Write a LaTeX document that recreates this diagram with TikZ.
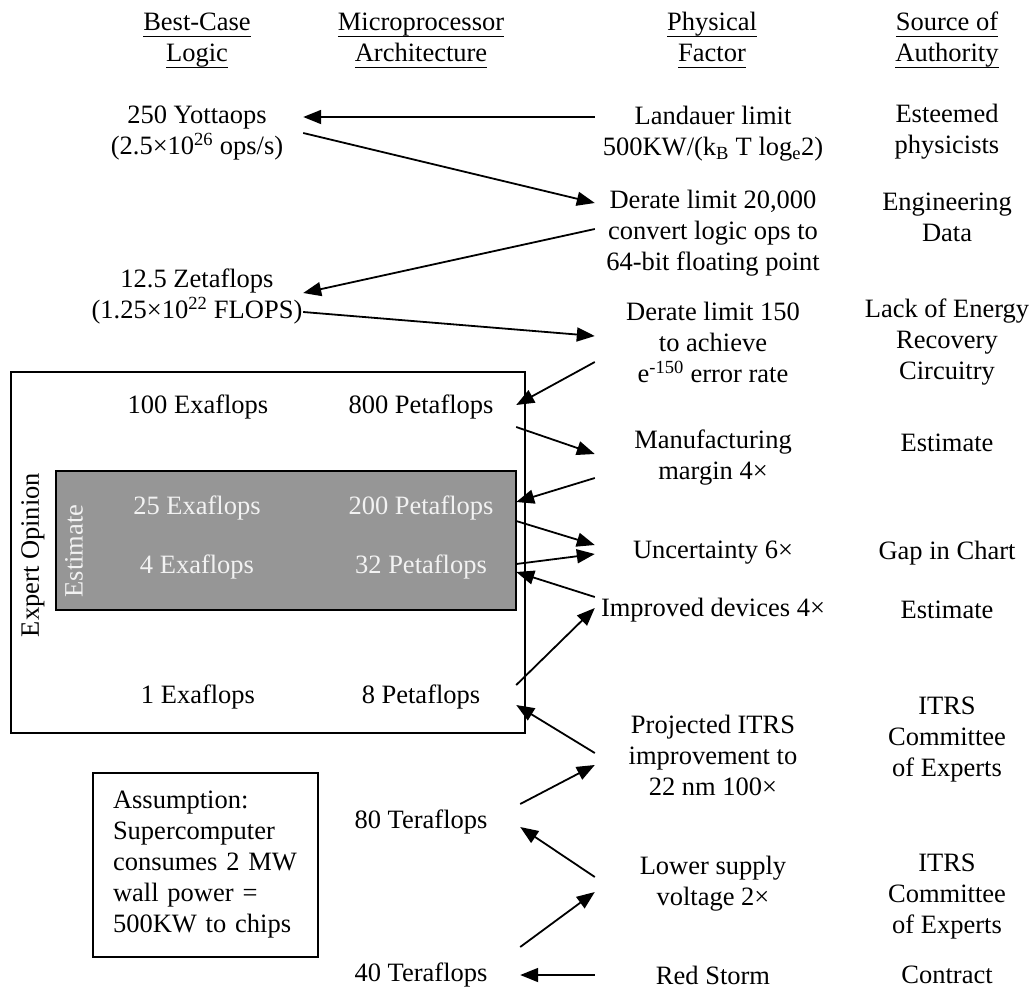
\documentclass[tikz,border=0pt]{standalone}
\usepackage{fontspec}
\setmainfont{Liberation Serif}
\usetikzlibrary{arrows.meta}
\definecolor{boxgray}{HTML}{969696}
\definecolor{pale}{HTML}{F2F2F2}
\newcommand{\hdrline}[1]{\underline{\raisebox{0pt}[19pt][4pt]{#1}}}
\begin{document}
\begin{tikzpicture}[x=1pt,y=-1pt,
  every node/.style={font=\fontsize{26.5}{31}\selectfont, inner sep=0pt, align=center},
  lcol/.style={minimum width=212pt},
  pcol/.style={minimum width=190pt},
  tcol/.style={minimum width=198pt},
  fcol/.style={minimum width=236pt},
  wtext/.style={text=pale},
  arr/.style={line width=1.8pt, -{Triangle[length=18pt,width=14pt]}},
  frame/.style={draw=black, line width=1.7pt}]
\useasboundingbox (0,0) rectangle (1032,990);

% boxes
\draw[frame] (11,372) rectangle (525,733);
\draw[frame, fill=boxgray, line width=2pt] (56,471) rectangle (516,610);
\node[rotate=90] (expert) at (33,555) {Expert Opinion};
\node[rotate=90, wtext] (estv) at (74,551) {Estimate};
\node[frame, line width=2pt, minimum width=225pt, minimum height=184pt,
      text width=185pt, align=left] (assume) at (205.5,865)
  {Assumption:\\Supercomputer\\consumes 2 MW\\wall power =\\500KW to chips};

% headers
\node (h1) at (197,40) {\hdrline{Best-Case}\\\hdrline{Logic}};
\node (h2) at (421,40) {\hdrline{Microprocessor}\\\hdrline{Architecture}};
\node (h3) at (712,40) {\hdrline{Physical}\\\hdrline{Factor}};
\node (h4) at (947,40) {\hdrline{Source of}\\\hdrline{Authority}};

% best-case logic column
\node[lcol] (yotta) at (197,133.5) {250 Yottaops\\(2.5×10\textsuperscript{26} ops/s)};
\node[lcol] (zeta) at (197,296.5) {12.5 Zetaflops\\(1.25×10\textsuperscript{22} FLOPS)};
\node (e100) at (198,407) {100 Exaflops};
\node[wtext] (e25) at (197,508) {25 Exaflops};
\node[wtext] (e4) at (197,567) {4 Exaflops};
\node (e1) at (198,697) {1 Exaflops};

% architecture column
\node[pcol] (p800) at (421,407) {800 Petaflops};
\node[pcol, wtext] (p200) at (421,508) {200 Petaflops};
\node[pcol, wtext] (p32) at (421,567) {32 Petaflops};
\node[pcol] (p8) at (421,697) {8 Petaflops};
\node[tcol] (t80) at (421,822) {80 Teraflops};
\node[tcol] (t40) at (421,975) {40 Teraflops};

% physical factor column
\node[fcol] (land) at (713,134) {Landauer limit\\500KW/(k\textsubscript{B} T log\textsubscript{e}2)};
\node[fcol] (der1) at (713,233) {Derate limit 20,000\\convert logic ops to\\64-bit floating point};
\node[fcol] (der2) at (713,342) {Derate limit 150\\to achieve\\e\textsuperscript{-150} error rate};
\node[fcol] (manu) at (713,458) {Manufacturing\\margin 4×};
\node[fcol] (unc) at (713,553) {Uncertainty 6×};
\node[fcol] (impr) at (713,610) {Improved devices 4×};
\node[fcol] (proj) at (713,755) {Projected ITRS\\improvement to\\22 nm 100×};
\node[fcol] (lower) at (713,884) {Lower supply\\voltage 2×};
\node[fcol] (red) at (713,975) {Red Storm};

% source of authority column
\node (s1) at (947,132) {Esteemed\\physicists};
\node (s2) at (947,217) {Engineering\\Data};
\node (s3) at (947,342) {Lack of Energy\\Recovery\\Circuitry};
\node (s4) at (947,443) {Estimate};
\node (s5) at (947,553) {Gap in Chart};
\node (s6) at (947,610) {Estimate};
\node (s7) at (947,740) {ITRS\\Committee\\of Experts};
\node (s8) at (947,897) {ITRS\\Committee\\of Experts};
\node (s9) at (947,975) {Contract};

% connectors
\draw[arr] ([yshift=17pt]land.west) -- ([yshift=16.5pt]yotta.east);
\draw[arr] ([yshift=0.5pt]yotta.east) -- ([yshift=30pt]der1.west);
\draw[arr] ([yshift=4pt]der1.west) -- ([yshift=3.5pt]zeta.east);
\draw[arr] ([yshift=-15.5pt]zeta.east) -- ([yshift=6pt]der2.west);
\draw[arr] ([yshift=-20pt]der2.west) -- ([yshift=2pt]p800.east);
\draw[arr] ([yshift=-20pt]p800.east) -- ([yshift=4pt]manu.west);
\draw[arr] ([yshift=-20pt]manu.west) -- ([yshift=6pt]p200.east);
\draw[arr] ([yshift=-13pt]p200.east) -- ([yshift=8pt]unc.west);
\draw[arr] ([yshift=3pt]p32.east) -- ([yshift=-1pt]unc.west);
\draw[arr] ([yshift=13pt]impr.west) -- ([yshift=-5pt]p32.east);
\draw[arr] ([yshift=12pt]p8.east) -- ([yshift=2pt]impr.west);
\draw[arr] ([yshift=2pt]proj.west) -- ([yshift=-8pt]p8.east);
\draw[arr] ([yshift=18pt]t80.east) -- ([yshift=-10pt]proj.west);
\draw[arr] ([yshift=7pt]lower.west) -- ([yshift=-5pt]t80.east);
\draw[arr] ([yshift=28pt]t40.east) -- ([yshift=-8pt]lower.west);
\draw[arr] (red.west) -- (t40.east);
\end{tikzpicture}
\end{document}
